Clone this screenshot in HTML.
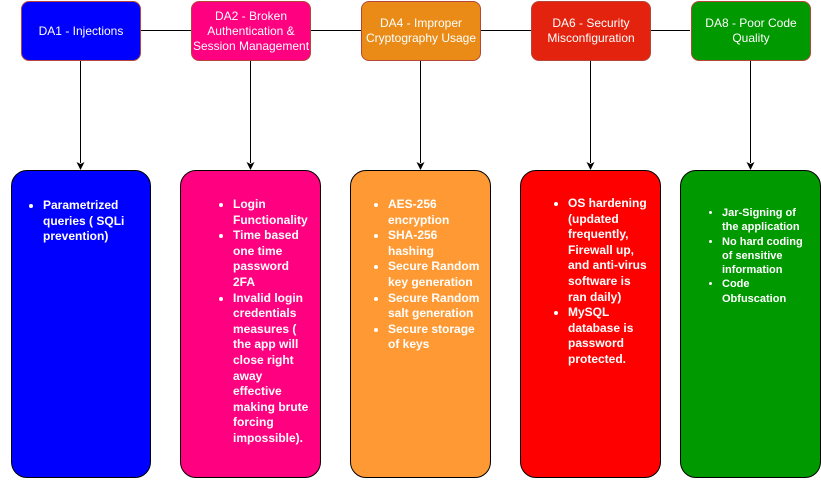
<!DOCTYPE html>
<html><head><style>
body{margin:0;width:821px;height:481px;background:#fff;position:relative;overflow:hidden;font-family:"Liberation Sans",Arial,sans-serif;}
.h{position:absolute;top:1px;width:118px;height:58px;border:1px solid #b5473a;border-radius:8px;color:#fff;font-size:12px;display:flex;align-items:center;justify-content:center;text-align:center;line-height:15px;}
.b{position:absolute;top:170px;width:138px;height:308px;border:1px solid #000;border-radius:16px;color:#fff;font-weight:bold;font-size:12px;line-height:15.6px;box-sizing:border-box;}
.b ul{margin:0;padding:0 0 0 0;position:absolute;list-style:disc;}
.b li{margin:0;}
</style></head><body>
<svg width="821" height="481" style="position:absolute;left:0;top:0">
<line x1="140" y1="30.5" x2="690" y2="30.5" stroke="#000" stroke-width="1"/>
<g stroke="#000" stroke-width="1">
<line x1="80.5" y1="60" x2="80.5" y2="163"/>
<line x1="250.5" y1="60" x2="250.5" y2="163"/>
<line x1="420.5" y1="60" x2="420.5" y2="163"/>
<line x1="590.5" y1="60" x2="590.5" y2="163"/>
<line x1="750.5" y1="60" x2="750.5" y2="163"/>
</g>
<g fill="#000">
<path d="M76.5 162 L80.5 170 L84.5 162 L80.5 164Z"/>
<path d="M246.5 162 L250.5 170 L254.5 162 L250.5 164Z"/>
<path d="M416.5 162 L420.5 170 L424.5 162 L420.5 164Z"/>
<path d="M586.5 162 L590.5 170 L594.5 162 L590.5 164Z"/>
<path d="M746.5 162 L750.5 170 L754.5 162 L750.5 164Z"/>
</g>
</svg>
<div class="h" style="left:21px;background:#0000ff">DA1 - Injections</div>
<div class="h" style="left:191px;background:#ff0080">DA2 - Broken Authentication &amp; Session Management</div>
<div class="h" style="left:361px;background:#e98b16">DA4 - Improper Cryptography Usage</div>
<div class="h" style="left:531px;background:#e3230e">DA6 - Security Misconfiguration</div>
<div class="h" style="left:691px;background:#009900">DA8 - Poor Code Quality</div>

<div class="b" style="left:11px;width:140px;background:#0000ff"><ul style="left:31px;top:27px;width:88px"><li>Parametrized queries ( SQLi prevention)</li></ul></div>
<div class="b" style="left:180px;width:141px;background:#ff0080"><ul style="left:52px;top:26px;width:78px"><li>Login Functionality</li><li>Time based one time password 2FA</li><li>Invalid login credentials measures ( the app will close right away effective making brute forcing impossible).</li></ul></div>
<div class="b" style="left:350px;width:141px;background:#ff9933"><ul style="left:37px;top:26px;width:94px"><li>AES-256 encryption</li><li>SHA-256 hashing</li><li>Secure Random key generation</li><li>Secure Random salt generation</li><li>Secure storage of keys</li></ul></div>
<div class="b" style="left:520px;width:141px;background:#ff0000"><ul style="left:47px;top:25px;width:84px"><li>OS hardening (updated frequently, Firewall up, and anti-virus software is ran daily)</li><li>MySQL database is password protected.</li></ul></div>
<div class="b" style="left:680px;width:141px;background:#009900;font-size:11px;line-height:14.3px"><ul style="left:41px;top:35px;width:82px"><li>Jar-Signing of the application</li><li>No hard coding of sensitive information</li><li>Code Obfuscation</li></ul></div>
</body></html>
